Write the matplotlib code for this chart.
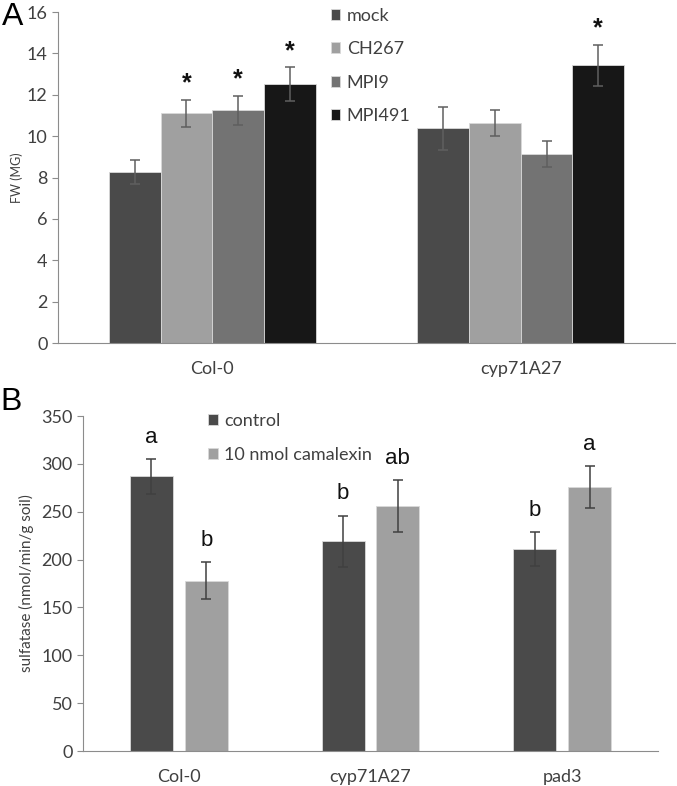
import matplotlib
matplotlib.use("Agg")
import matplotlib.pyplot as plt
import numpy as np

# panel A data
a_groups = ["Col-0", "cyp71A27"]
a_series = ["mock", "CH267", "MPI9", "MPI491"]
a_mock = [8.25, 10.38]
a_ch267 = [11.1, 10.62]
a_mpi9 = [11.25, 9.13]
a_mpi491 = [12.5, 13.43]
a_mock_err = [0.58, 1.03]
a_ch267_err = [0.65, 0.62]
a_mpi9_err = [0.7, 0.63]
a_mpi491_err = [0.82, 1.0]
a_stars = [["", ""], ["*", ""], ["*", ""], ["*", "*"]]

# panel B data
b_groups = ["Col-0", "cyp71A27", "pad3"]
b_series = ["control", "10 nmol camalexin"]
b_control = [287, 219, 211]
b_camalexin = [178, 256, 276]
b_control_err = [18, 27, 18]
b_camalexin_err = [19, 27, 22]
b_letters = [["a", "b", "b"], ["b", "ab", "a"]]

TXT = "#404040"
plt.rcParams["font.family"] = ["Lato", "DejaVu Sans"]

fig = plt.figure(figsize=(6.77, 7.86), dpi=100)


def style_axes(ax):
    for s in ["top", "right"]:
        ax.spines[s].set_visible(False)
    ax.spines["left"].set_color("#8c8c8c")
    ax.spines["bottom"].set_color("#8c8c8c")
    ax.tick_params(axis="y", colors="#8c8c8c", labelcolor=TXT, labelsize=13, length=4)
    ax.tick_params(axis="x", length=0, labelcolor=TXT, labelsize=13, pad=13)


# ---- panel A
axA = fig.add_axes([0.0857, 0.5636, 0.9113, 0.4211])
vals = [a_mock, a_ch267, a_mpi9, a_mpi491]
errs = [a_mock_err, a_ch267_err, a_mpi9_err, a_mpi491_err]
colors_a = ["#4a4a4a", "#a0a0a0", "#737373", "#171717"]
x = np.arange(len(a_groups))
w = 0.1675
for i in range(4):
    xs = x + (i - 1.5) * w
    axA.bar(xs, vals[i], w, color=colors_a[i], edgecolor="#d9d9d9", linewidth=0.6,
            label=a_series[i])
    axA.errorbar(xs, vals[i], yerr=errs[i], fmt="none", ecolor="#5f5f5f",
                 elinewidth=1.1, capsize=3.5, capthick=1.1)
    for j in range(len(x)):
        if a_stars[i][j]:
            axA.annotate(a_stars[i][j], (xs[j], vals[i][j] + errs[i][j]),
                         xytext=(0, 3), textcoords="offset points",
                         ha="center", va="bottom", fontsize=18,
                         fontweight="bold", color="#111111",
                         family="Liberation Sans")
axA.set_xlim(-0.5, 1.5)
axA.set_ylim(0, 16)
axA.set_yticks(range(0, 17, 2))
axA.set_xticks(x)
axA.set_xticklabels(a_groups)
axA.set_ylabel("FW (MG)", fontsize=9, color=TXT, labelpad=3)
style_axes(axA)
axA.legend(loc="upper left", bbox_to_anchor=(0.43, 1.035), frameon=False,
           fontsize=13, labelcolor=TXT, handlelength=0.55, handleheight=0.55,
           handletextpad=0.35, labelspacing=0.97, borderaxespad=0)
fig.text(0.003, 0.997, "A", fontsize=23, va="top", ha="left",
         family="Liberation Sans")

# ---- panel B
axB = fig.add_axes([0.1226, 0.0445, 0.8494, 0.4262])
xb = np.arange(len(b_groups))
wb = 0.224
off = 0.143
colors_b = ["#4a4a4a", "#a0a0a0"]
bvals = [b_control, b_camalexin]
berrs = [b_control_err, b_camalexin_err]
for i in range(2):
    xs = xb + (-off if i == 0 else off)
    axB.bar(xs, bvals[i], wb, color=colors_b[i], edgecolor="#d9d9d9",
            linewidth=0.6, label=b_series[i])
    axB.errorbar(xs, bvals[i], yerr=berrs[i], fmt="none", ecolor="#404040",
                 elinewidth=1.1, capsize=3.5, capthick=1.1)
    for j in range(len(xb)):
        axB.annotate(b_letters[i][j], (xs[j], bvals[i][j] + berrs[i][j]),
                     xytext=(0, 8), textcoords="offset points",
                     ha="center", va="bottom", fontsize=16, color="#111111",
                     family="Liberation Sans")
axB.set_xlim(-0.5, 2.5)
axB.set_ylim(0, 350)
axB.set_yticks(range(0, 351, 50))
axB.set_xticks(xb)
axB.set_xticklabels(b_groups)
axB.set_ylabel("sulfatase (nmol/min/g soil)", fontsize=11, color=TXT,
               labelpad=5)
style_axes(axB)
axB.legend(loc="upper left", bbox_to_anchor=(0.205, 1.03), frameon=False,
           fontsize=13, labelcolor=TXT, handlelength=0.55, handleheight=0.55,
           handletextpad=0.35, labelspacing=0.97, borderaxespad=0)
fig.text(0.0, 0.507, "B", fontsize=23, va="top", ha="left",
         family="Liberation Sans")

fig.savefig("out.png", dpi=100)
